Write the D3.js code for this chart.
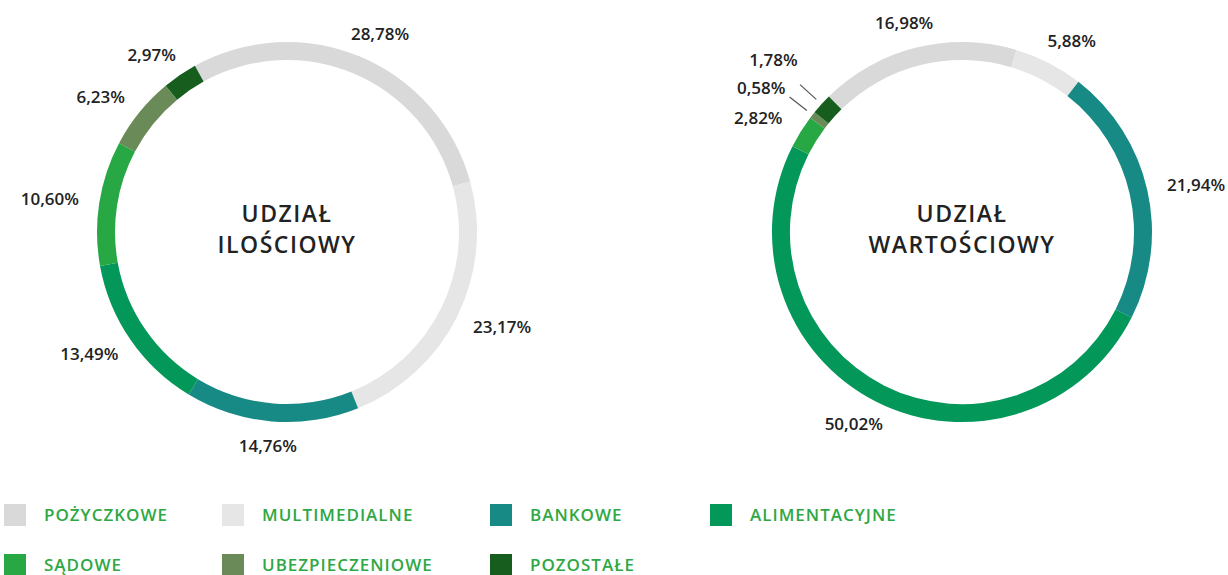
<!DOCTYPE html>
<html>
<head>
<meta charset="utf-8">
<script src="https://cdn.jsdelivr.net/npm/d3@7"></script>
<style>
  html, body { margin: 0; padding: 0; background: #fff; }
  svg { display: block; }
</style>
</head>
<body>
<div id="chart"></div>
<script>
// Data
var categories = ["POŻYCZKOWE", "MULTIMEDIALNE", "BANKOWE", "ALIMENTACYJNE", "SĄDOWE", "UBEZPIECZENIOWE", "POZOSTAŁE"];
var colors = ["#d9d9d9", "#e6e6e6", "#178a85", "#03975a", "#28a845", "#6a8a58", "#175d1d"];
var ilosciowy = [28.78, 23.17, 14.76, 13.49, 10.60, 6.23, 2.97];
var wartosciowy = [16.98, 5.88, 21.94, 50.02, 2.82, 0.58, 1.78];
var titleIlosciowy = ["UDZIAŁ", "ILOŚCIOWY"];
var titleWartosciowy = ["UDZIAŁ", "WARTOŚCIOWY"];

var width = 1228, height = 575;

var svg = d3.select("#chart")
  .append("svg")
    .attr("width", width)
    .attr("height", height);

var fmt = function(v) { return d3.format(".2f")(v).replace(".", ",") + "%"; };
var rad = function(deg) { return deg * Math.PI / 180; };

// Ring geometry
var innerR = 172, outerR = 190;
var arc = d3.arc().innerRadius(innerR).outerRadius(outerR);

function drawDonut(values, title, cx, cy, startDeg) {
  var g = svg.append("g")
    .attr("transform", "translate(" + cx + "," + cy + ")");

  var pie = d3.pie()
    .sort(null)
    .startAngle(rad(startDeg))
    .endAngle(rad(startDeg) + 2 * Math.PI);

  var arcs = pie(values);

  g.selectAll("path.slice")
    .data(arcs)
    .enter().append("path")
      .attr("class", "slice")
      .attr("d", arc)
      .attr("fill", function(d, i) { return colors[i]; });

  // label positions (ellipse around ring), small slices get a leader line
  var labels = arcs.map(function(d, i) {
    var a = (d.startAngle + d.endAngle) / 2;
    var small = d.value < 2;
    var rx = small ? 255 : 240, ry = small ? 245 : 215;
    return { a: a, small: small, x: rx * Math.sin(a), y: -ry * Math.cos(a), text: fmt(d.value) };
  });

  // push apart overlapping small labels
  var smalls = labels.filter(function(l) { return l.small; })
    .sort(function(p, q) { return p.y - q.y; });
  for (var k = 1; k < smalls.length; k++) {
    var gap = smalls[k].y - smalls[k - 1].y;
    if (gap < 28) {
      var shift = (28 - gap) / 2;
      smalls[k - 1].y -= shift;
      smalls[k].y += shift;
    }
  }

  g.selectAll("line.leader")
    .data(labels.filter(function(l) { return l.small; }))
    .enter().append("line")
      .attr("class", "leader")
      .attr("x1", function(l) { return 197 * Math.sin(l.a); })
      .attr("y1", function(l) { return -197 * Math.cos(l.a); })
      .attr("x2", function(l) { return 219 * Math.sin(l.a); })
      .attr("y2", function(l) { return -219 * Math.cos(l.a); })
      .attr("stroke", "#555")
      .attr("stroke-width", 1.2);

  g.selectAll("text.pct")
    .data(labels)
    .enter().append("text")
      .attr("class", "pct")
      .attr("x", function(l) { return l.x; })
      .attr("y", function(l) { return l.y; })
      .attr("dy", "0.36em")
      .attr("text-anchor", "middle")
      .style("font-family", "'Open Sans', sans-serif")
      .style("font-weight", 600)
      .style("font-size", "17px")
      .style("fill", "#222")
      .text(function(l) { return l.text; });

  // Centre title
  g.selectAll("text.title")
    .data(title)
    .enter().append("text")
      .attr("class", "title")
      .attr("x", 0)
      .attr("y", function(t, i) { return -10 + i * 31; })
      .attr("text-anchor", "middle")
      .style("font-family", "'Open Sans', sans-serif")
      .style("font-weight", 600)
      .style("font-size", "23px")
      .style("letter-spacing", "1.5px")
      .style("fill", "#222")
      .text(function(t) { return t; });
}

drawDonut(ilosciowy, titleIlosciowy, 287, 232, -29);
drawDonut(wartosciowy, titleWartosciowy, 962, 232, -44.5);

// Legend
var legendCols = [4, 222, 490, 710];
var legendRows = [504, 554];

var legend = svg.selectAll("g.legend")
  .data(categories)
  .enter().append("g")
    .attr("class", "legend")
    .attr("transform", function(d, i) {
      return "translate(" + legendCols[i % 4] + "," + legendRows[Math.floor(i / 4)] + ")";
    });

legend.append("rect")
  .attr("width", 22)
  .attr("height", 22)
  .attr("fill", function(d, i) { return colors[i]; });

legend.append("text")
  .attr("x", 40)
  .attr("y", 17)
  .style("font-family", "'Open Sans', sans-serif")
  .style("font-weight", 600)
  .style("font-size", "17px")
  .style("letter-spacing", "1px")
  .style("fill", "#2ea844")
  .text(function(d) { return d; });
</script>
</body>
</html>
